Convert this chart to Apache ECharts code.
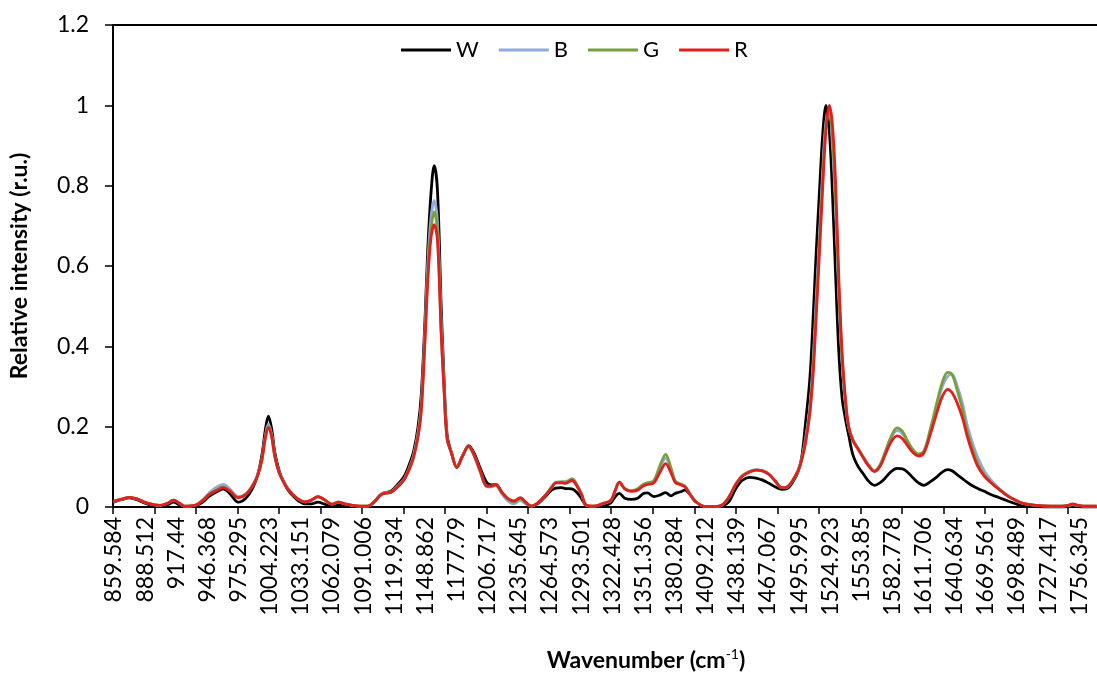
<!DOCTYPE html>
<html>
<head>
<meta charset="utf-8">
<script src="https://cdn.jsdelivr.net/npm/echarts@6/dist/echarts.min.js"></script>
<style>
  html, body { margin: 0; padding: 0; background: #fff; }
  #chart { width: 1097px; height: 686px; }
</style>
</head>
<body>
<div id="chart"></div>
<script>
// ---- data (wavenumber in cm-1, relative intensity) ----
const wavenumber = [859,866,874,882,889,896,902,909,915,920,925,935,942,948,955,961,967,975,982,988,
  993,997,1000,1003,1006,1009,1013,1017,1021,1026,1031,1037,1043,1049,1055,1062,1068,1074,1081,1088,
  1095,1101,1108,1117,1123,1129,1134,1138,1142,1145,1148.5,1151,1154,1157,1160,1163.5,1166,1169,1173,1178,
  1183,1189,1194,1200,1206,1210,1214,1220,1226,1231,1237,1242,1247,1254,1261,1266,1270,1275,1279,1285,
  1290,1294,1298,1305,1314,1321,1325,1329,1334,1340,1346,1351,1355,1361,1367,1372,1377,1381,1386,1390,
  1395,1400,1409,1418,1425,1431,1437,1443,1450,1456,1462,1468,1474,1480,1485,1490,1495,1498.5,1502,1506,
  1509,1512,1515,1518,1521,1524,1527,1530,1533,1536,1539,1542,1546,1551,1555,1560,1566,1571,1576,1581,
  1587,1592,1597,1602,1607,1612,1618,1624,1629,1634,1638,1643,1648,1652,1657,1662,1668,1674,1682,1690,
  1697,1704,1716,1729,1740,1746,1750,1755,1760,1772.5];

const R = [.014,.019,.024,.019,.011,.006,.004,.009,.017,.01,.002,.004,.016,.031,.041,.048,.04,.023,.031,.051,
  .078,.118,.17,.198,.175,.125,.085,.063,.045,.03,.019,.013,.017,.026,.018,.007,.012,.008,.004,.002,
  .002,.012,.031,.037,.05,.068,.095,.125,.175,.24,.417,.56,.67,.703,.665,.43,.3,.17,.135,.098,
  .125,.151,.13,.088,.052,.052,.056,.036,.02,.015,.023,.012,.002,.012,.031,.048,.06,.06,.059,.066,
  .05,.03,.005,.002,.009,.016,.04,.062,.045,.039,.042,.052,.056,.06,.088,.108,.085,.061,.055,.05,
  .03,.013,.001,.001,.006,.025,.055,.076,.087,.092,.09,.081,.064,.048,.05,.066,.09,.118,.16,.235,
  .33,.48,.64,.8,.94,1.0,.95,.8,.56,.38,.27,.2,.165,.143,.125,.104,.088,.1,.13,.16,
  .177,.17,.152,.135,.127,.135,.182,.235,.275,.293,.285,.258,.22,.178,.135,.101,.077,.061,.043,.027,
  .017,.009,.004,.002,.002,.004,.008,.004,.002,.002];

const W = [.012,.018,.023,.017,.009,.003,.002,.005,.012,.006,.001,.003,.012,.027,.038,.045,.034,.012,.022,.045,
  .08,.13,.19,.226,.195,.135,.09,.063,.043,.027,.015,.008,.008,.012,.007,.002,.006,.004,.002,.001,
  .001,.012,.032,.04,.056,.076,.107,.14,.2,.28,.47,.64,.78,.85,.79,.5,.33,.18,.135,.1,
  .125,.153,.135,.095,.06,.055,.056,.036,.018,.012,.02,.01,.002,.01,.028,.042,.047,.048,.046,.045,
  .035,.02,.004,.001,.002,.01,.025,.034,.022,.019,.022,.033,.035,.026,.03,.036,.028,.034,.038,.042,
  .03,.013,.001,.001,.003,.014,.045,.066,.074,.072,.067,.059,.05,.044,.046,.062,.088,.125,.21,.32,
  .47,.64,.79,.93,1.0,.94,.78,.57,.38,.27,.22,.18,.13,.1,.085,.066,.054,.06,.072,.087,
  .096,.095,.086,.072,.06,.054,.063,.075,.087,.093,.09,.08,.07,.062,.053,.046,.039,.031,.023,.015,
  .008,.002,.001,0,0,.001,.002,.001,0,0];

const B = [.014,.019,.024,.019,.011,.006,.004,.009,.017,.01,.002,.005,.018,.035,.05,.056,.045,.026,.033,.053,
  .08,.12,.175,.206,.18,.127,.086,.064,.046,.031,.019,.013,.017,.025,.018,.007,.012,.008,.004,.002,
  .002,.012,.033,.038,.052,.07,.098,.13,.185,.255,.44,.6,.72,.763,.71,.46,.31,.17,.135,.098,
  .125,.15,.128,.085,.05,.05,.054,.032,.014,.008,.016,.008,.002,.012,.032,.05,.062,.063,.063,.07,
  .054,.032,.005,.002,.009,.016,.04,.062,.046,.041,.045,.055,.058,.063,.1,.122,.093,.064,.057,.052,
  .031,.013,.001,.001,.006,.026,.057,.078,.089,.093,.09,.082,.064,.048,.05,.066,.09,.12,.17,.25,
  .36,.52,.68,.84,.96,.98,.9,.74,.52,.36,.26,.2,.168,.145,.127,.106,.09,.103,.135,.17,
  .19,.183,.16,.14,.13,.137,.19,.25,.3,.325,.33,.3,.255,.205,.16,.123,.09,.068,.046,.028,
  .017,.009,.004,.002,.002,.004,.006,.004,.002,.002];

const G = [.014,.019,.024,.019,.011,.006,.004,.009,.017,.01,.002,.004,.017,.032,.043,.05,.041,.024,.032,.052,
  .079,.118,.172,.2,.177,.125,.085,.063,.045,.03,.019,.013,.017,.026,.018,.007,.012,.008,.004,.002,
  .002,.012,.032,.037,.05,.068,.096,.127,.18,.245,.43,.58,.69,.735,.69,.44,.3,.17,.135,.098,
  .125,.15,.13,.088,.052,.052,.056,.035,.018,.012,.021,.01,.002,.012,.031,.049,.061,.062,.062,.07,
  .053,.031,.005,.002,.009,.016,.04,.062,.046,.04,.045,.056,.06,.066,.105,.131,.097,.064,.057,.051,
  .031,.013,.001,.001,.006,.026,.056,.077,.088,.092,.09,.082,.064,.048,.05,.066,.09,.12,.165,.24,
  .345,.5,.66,.82,.95,.98,.92,.76,.54,.37,.265,.2,.167,.145,.127,.106,.09,.104,.137,.172,
  .197,.188,.163,.142,.132,.14,.195,.26,.31,.335,.33,.29,.24,.19,.145,.108,.08,.062,.044,.027,
  .017,.009,.004,.002,.002,.004,.006,.004,.002,.002];

const tickLabels = ['859.584','888.512','917.44','946.368','975.295','1004.223','1033.151','1062.079',
  '1091.006','1119.934','1148.862','1177.79','1206.717','1235.645','1264.573','1293.501','1322.428',
  '1351.356','1380.284','1409.212','1438.139','1467.067','1495.995','1524.923','1553.85','1582.778',
  '1611.706','1640.634','1669.561','1698.489','1727.417','1756.345'];

const seriesNames = ['W', 'B', 'G', 'R'];
const seriesValues = [W, B, G, R];
const seriesColors = ['#000000', '#8FAADC', '#77A03C', '#E0201E'];

// ---- axis geometry derived from the category layout of the original spreadsheet chart ----
const labelVals = tickLabels.map(Number);
const catStep = (labelVals[labelVals.length - 1] - labelVals[0]) / ((labelVals.length - 1) * 15);
const axisMin = labelVals[0] - catStep / 2;
const axisMax = axisMin + 474 * catStep;
const tickVals = [];
for (let k = 0; k * 20 * catStep + axisMin <= axisMax; k++) tickVals.push(axisMin + k * 20 * catStep);

const FONT = 'Lato';

const chart = echarts.init(document.getElementById('chart'), null, { renderer: 'canvas' });
chart.setOption({
  animation: false,
  backgroundColor: '#ffffff',
  textStyle: { fontFamily: FONT, color: '#000' },
  grid: { left: 107, right: 0, top: 25, bottom: 179, containLabel: false },
  legend: {
    data: seriesNames,
    left: 396,
    top: 34,
    icon: 'rect',
    itemWidth: 50,
    itemHeight: 3,
    itemGap: 20,
    textStyle: { fontFamily: FONT, fontSize: 22, color: '#000' }
  },
  xAxis: [{
    type: 'value',
    min: axisMin,
    max: axisMax,
    position: 'bottom',
    splitLine: { show: false },
    axisLine: { show: true, onZero: false, lineStyle: { color: '#000', width: 2 } },
    axisTick: { show: true, customValues: tickVals, length: 7, lineStyle: { color: '#000', width: 1.5 } },
    axisLabel: {
      show: true,
      customValues: labelVals,
      rotate: 90,
      margin: 10,
      fontFamily: FONT,
      fontSize: 23,
      color: '#000',
      formatter: function (v) {
        const i = labelVals.findIndex(function (x) { return Math.abs(x - v) < 1e-6; });
        return i >= 0 ? tickLabels[i] : '';
      }
    }
  }, {
    type: 'value',
    min: axisMin,
    max: axisMax,
    position: 'top',
    splitLine: { show: false },
    axisLine: { show: true, onZero: false, lineStyle: { color: '#000', width: 2 } },
    axisTick: { show: false },
    axisLabel: { show: false }
  }],
  yAxis: {
    type: 'value',
    min: 0,
    max: 1.2,
    interval: 0.2,
    name: 'Relative intensity (r.u.)',
    nameLocation: 'middle',
    nameGap: 82,
    nameTextStyle: { fontFamily: FONT, fontSize: 23, fontWeight: 'bold', color: '#000' },
    splitLine: { show: false },
    axisLine: { show: true, lineStyle: { color: '#000', width: 2 } },
    axisTick: { show: true, length: 8, lineStyle: { color: '#000', width: 1.5 } },
    axisLabel: { fontFamily: FONT, fontSize: 23, color: '#000', margin: 24 }
  },
  graphic: [{
    type: 'text',
    x: 646,
    y: 661,
    style: {
      text: '{a|Wavenumber (cm}{b|-1}{a|)}',
      align: 'center',
      verticalAlign: 'middle',
      rich: {
        a: { fontFamily: FONT, fontSize: 23, fontWeight: 'bold', fill: '#000', lineHeight: 28 },
        b: { fontFamily: FONT, fontSize: 14, fontWeight: 'normal', fill: '#000', verticalAlign: 'top', lineHeight: 20 }
      }
    }
  }],
  series: seriesNames.map(function (name, s) {
    return {
      name: name,
      type: 'line',
      xAxisIndex: 0,
      data: wavenumber.map(function (x, i) { return [x, seriesValues[s][i]]; }),
      symbol: 'none',
      smooth: 0.35,
      color: seriesColors[s],
      lineStyle: { color: seriesColors[s], width: 2.8 },
      z: 2 + s
    };
  })
});
</script>
</body>
</html>
